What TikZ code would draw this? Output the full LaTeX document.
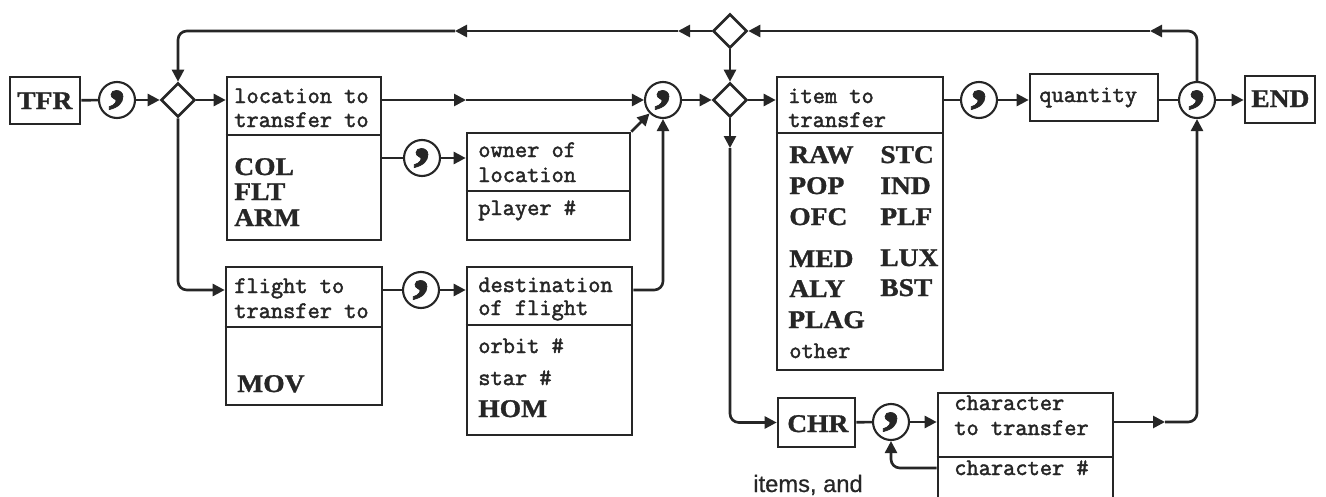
\documentclass[tikz,border=0pt]{standalone}
\usepackage{fontspec}
\newfontfamily\boxfont{Latin Modern Mono}[FakeBold=2]
\newfontfamily\capfont{Liberation Serif}[FakeBold=1.2,FakeStretch=1.08]
\newfontfamily\pagefont{Liberation Sans}[FakeBold=0.6]
\usetikzlibrary{arrows.meta,shapes.geometric,fit}

\begin{document}
\begin{tikzpicture}[x=0.02cm,y=-0.02cm,line width=1.5pt,black!85,
  >={Triangle[length=0.24cm,width=0.24cm]},
  box/.style={draw,inner sep=0pt},
  lo/.style={anchor=base west,inner sep=0pt,font=\boxfont\fontsize{13.5}{15}\selectfont},
  hi/.style={anchor=base west,inner sep=0pt,font=\capfont\bfseries\fontsize{14.5}{17}\selectfont},
  sep/.style={circle,draw,line width=1.2pt,minimum size=0.72cm,inner sep=0pt,
    font=\capfont\bfseries\fontsize{36}{36}\selectfont},
  fork/.style={diamond,draw,minimum size=0.68cm,inner sep=0pt},
  wire/.style={rounded corners=5pt}]
  \useasboundingbox (0,0) rectangle (1326,497);

  % boxes
  \node[box, fit={(10,77) (80,124)}] (tfr) {};
  \node[box, fit={(227,77) (381,240)}] (loc) {};
  \node[box, fit={(467,133) (630,240)}] (own) {};
  \node[box, fit={(226,267) (382,405)}] (flt) {};
  \node[box, fit={(467,267) (632,435)}] (dst) {};
  \node[box, fit={(777,77) (943,370)}] (itm) {};
  \node[box, fit={(1030,74) (1158,121)}] (qty) {};
  \node[box, fit={(1245,76) (1315,123)}] (end) {};
  \node[box, fit={(778,398) (855,447)}] (chr) {};
  \node[box, fit={(938,393) (1113,505)}] (chb) {};
  \draw (loc.west |- 0,135) -- (loc.east |- 0,135);
  \draw (own.west |- 0,191) -- (own.east |- 0,191);
  \draw (flt.west |- 0,327) -- (flt.east |- 0,327);
  \draw (dst.west |- 0,325) -- (dst.east |- 0,325);
  \draw (itm.west |- 0,133) -- (itm.east |- 0,133);
  \draw (chb.west |- 0,457) -- (chb.east |- 0,457);

  % texts
  \node[hi] (tfrt) at (16,109) {TFR};
  \node[lo] (loc1) at (233,103) {location to};
  \node[lo] (loc2) at (233,127) {transfer to};
  \node[hi] (col) at (233,175) {COL};
  \node[hi] (flx) at (233,200) {FLT};
  \node[hi] (arm) at (233,226) {ARM};
  \node[lo] (own1) at (477,157) {owner of};
  \node[lo] (own2) at (477,182) {location};
  \node[lo] (own3) at (477,215) {player \#};
  \node[lo] (flt1) at (233,293) {flight to};
  \node[lo] (flt2) at (233,318) {transfer to};
  \node[hi] (mov) at (236,392) {MOV};
  \node[lo] (dst1) at (477,292) {destination};
  \node[lo] (dst2) at (477,315) {of flight};
  \node[lo] (dst3) at (477,353) {orbit \#};
  \node[lo] (dst4) at (477,385) {star \#};
  \node[hi] (hom) at (477,417) {HOM};
  \node[lo] (itm1) at (787,103) {item to};
  \node[lo] (itm2) at (787,127) {transfer};
  \node[hi] (raw) at (788,163) {RAW};
  \node[hi] (pop) at (788,194) {POP};
  \node[hi] (ofc) at (788,225) {OFC};
  \node[hi] (med) at (788,267) {MED};
  \node[hi] (aly) at (788,297) {ALY};
  \node[hi] (plag) at (787,328) {PLAG};
  \node[lo] (oth) at (788,358) {other};
  \node[hi] (stc) at (879,163) {STC};
  \node[hi] (ind) at (879,194) {IND};
  \node[hi] (plf) at (879,225) {PLF};
  \node[hi] (lux) at (879,266) {LUX};
  \node[hi] (bst) at (879,296) {BST};
  \node[lo] (qtyt) at (1038,102) {quantity};
  \node[hi] (endt) at (1250,107) {END};
  \node[hi] (chrt) at (786,432) {CHR};
  \node[lo] (chb1) at (953,410) {character};
  \node[lo] (chb2) at (953,435) {to transfer};
  \node[lo] (chb3) at (953,475) {character \#};
  \node[anchor=base west,inner sep=0pt,font=\pagefont\fontsize{13.5}{15}\selectfont]
    (page) at (752,492) {items, and};

  % commas and forks
  \node[sep] (c1) at (117,100) {,};
  \node[sep] (c2) at (422,158) {,};
  \node[sep] (c3) at (663,100) {,};
  \node[sep] (c4) at (979,100) {,};
  \node[sep] (c5) at (1197,100) {,};
  \node[sep] (c6) at (421,290) {,};
  \node[sep] (c7) at (891,422) {,};
  \node[fork] (d1) at (178,100) {};
  \node[fork] (d2) at (730,31) {};
  \node[fork] (d3) at (730,100) {};

  % free ends of the mid-line arrows
  \coordinate (ta1) at (1150,31);
  \coordinate (ta2) at (678,31);
  \coordinate (ta3) at (455,31);
  \coordinate (ra1) at (466,100);
  \coordinate (va1) at (730,148);
  \coordinate (ra2) at (1165,422);

  % connectors
  \draw (tfr) -- (c1);
  \draw[->] (c1) -- (d1);
  \draw[->] (d1) -- (d1 -| loc.west);
  \draw[->] (loc.east |- ra1) -- (ra1);
  \draw[->] (ra1) -- (c3);
  \draw (loc.east |- c2) -- (c2);
  \draw[->] (c2) -- (c2 -| own.west);
  \draw[->] (own.north east) -- (c3);
  \draw[->,wire] (d1) |- (c6 -| flt.west);
  \draw (flt.east |- c6) -- (c6);
  \draw[->] (c6) -- (c6 -| dst.west);
  \draw[->,wire] (c6 -| dst.east) -| (c3);
  \draw[->] (c3) -- (d3);
  \draw[->] (d2) -- (d3);
  \draw[->] (d3) -- (d3 -| itm.west);
  \draw[->] (d3) -- (va1);
  \draw[->,wire] (va1) |- (chr);
  \draw (itm.east |- c4) -- (c4);
  \draw[->] (c4) -- (c4 -| qty.west);
  \draw (qty.east |- c5) -- (c5);
  \draw[->] (c5) -- (c5 -| end.west);
  \draw[->,wire] (c5) |- (ta1);
  \draw[->] (ta1) -- (d2);
  \draw[->] (d2) -- (ta2);
  \draw[->] (ta2) -- (ta3);
  \draw[->,wire] (ta3) -| (d1);
  \draw (chr) -- (c7);
  \draw[->] (c7) -- (c7 -| chb.west);
  \draw[->,wire] (chb.west |- 0,468) -| (c7);
  \draw[->] (chb.east |- ra2) -- (ra2);
  \draw[->,wire] (ra2) -| (c5);
\end{tikzpicture}
\end{document}
